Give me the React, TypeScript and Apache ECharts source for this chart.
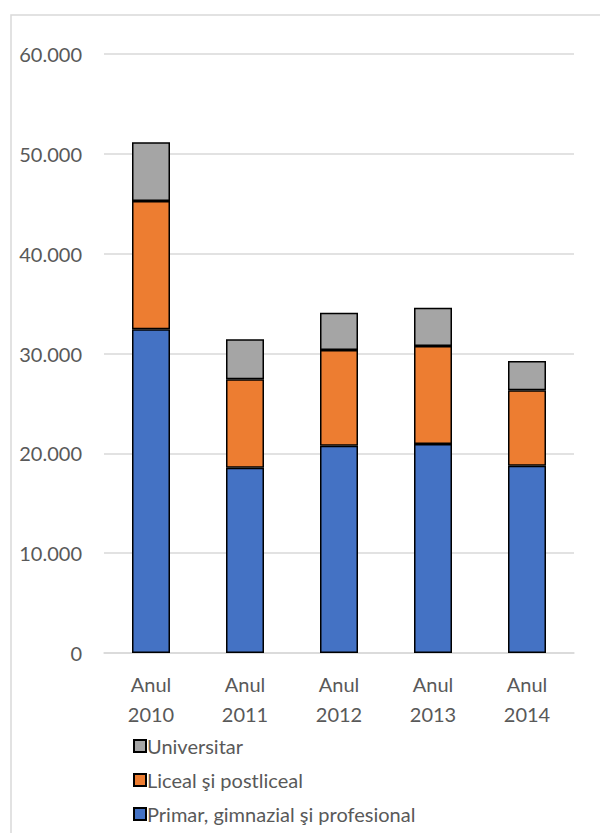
import React, { useEffect, useRef } from "react";
import * as echarts from "echarts";

const categories = ["Anul\n2010", "Anul\n2011", "Anul\n2012", "Anul\n2013", "Anul\n2014"];
const primar = [32420, 18560, 20770, 20940, 18760];
const liceal = [12860, 8860, 9580, 9810, 7550];
const universitar = [5880, 4000, 3740, 3840, 2940];
const seriesNames = ["Primar, gimnazial şi profesional", "Liceal şi postliceal", "Universitar"];
const legendOrder = ["Universitar", "Liceal şi postliceal", "Primar, gimnazial şi profesional"];
const colors = ["#4472C4", "#ED7D31", "#A5A5A5"];

const FONT = "Lato";

export default function App() {
  const ref = useRef<HTMLDivElement>(null);
  useEffect(() => {
    if (!ref.current) return;
    const chart = echarts.init(ref.current, undefined, { renderer: "svg" });
    const data = [primar, liceal, universitar];
    chart.setOption({
      animation: false,
      backgroundColor: "#ffffff",
      textStyle: { fontFamily: FONT },
      graphic: [
        {
          type: "rect",
          shape: { x: 11, y: 15, width: 700, height: 900 },
          style: { fill: "none", stroke: "#D9D9D9", lineWidth: 1.5 },
          silent: true,
        },
      ],
      grid: { left: 104, right: 26, top: 54, bottom: 180, containLabel: false },
      legend: {
        orient: "vertical",
        left: 128,
        top: 731,
        itemWidth: 12,
        itemHeight: 12,
        itemGap: 14,
        icon: "rect",
        data: legendOrder,
        textStyle: { fontFamily: FONT, fontSize: 20, color: "#595959", padding: [0, 0, 0, -4] },
      },
      xAxis: {
        type: "category",
        data: categories,
        axisLine: { show: true, lineStyle: { color: "#D9D9D9", width: 1.5 } },
        axisTick: { show: false },
        axisLabel: {
          fontFamily: FONT,
          fontSize: 20,
          color: "#595959",
          lineHeight: 30,
          margin: 16,
          interval: 0,
        },
      },
      yAxis: {
        type: "value",
        min: 0,
        max: 60000,
        interval: 10000,
        axisLine: { show: false },
        axisTick: { show: false },
        splitLine: { lineStyle: { color: "#D9D9D9", width: 1.5 } },
        axisLabel: {
          fontFamily: FONT,
          fontSize: 20,
          color: "#595959",
          margin: 22,
          formatter: (v: number) => (v === 0 ? "0" : v.toLocaleString("de-DE")),
        },
      },
      series: seriesNames.map((name, i) => ({
        name,
        type: "bar",
        stack: "total",
        barWidth: 38,
        data: data[i],
        itemStyle: { color: colors[i], borderColor: "#000000", borderWidth: 1.5 },
      })),
    });
    return () => chart.dispose();
  }, []);
  return <div ref={ref} style={{ width: 600, height: 833, position: "absolute", left: 0, top: 0 }} />;
}
